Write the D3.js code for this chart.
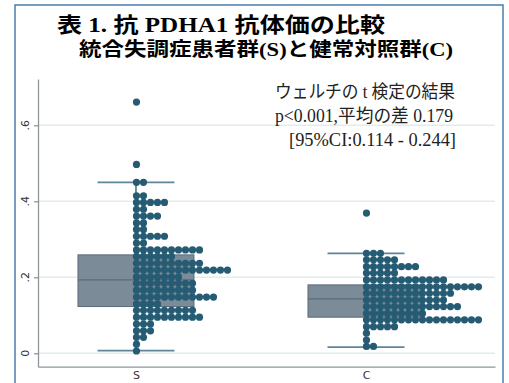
<!DOCTYPE html>
<html><head><meta charset="utf-8">
<script src="https://cdn.jsdelivr.net/npm/d3@7"></script>
<style>body{margin:0;background:#fff;overflow:hidden}</style>
</head><body><svg id="c" width="509" height="383"></svg>
<script>
// ---------- data ----------
const categories = ["S", "C"];
const yTicks = [0, 0.2, 0.4, 0.6];
const yTickLabels = ["0", ".2", ".4", ".6"];

// dot-plot rows (bin value, number of dots in that bin)
const sRowValues = [0.661, 0.497, 0.450, 0.4145, 0.397, 0.379, 0.361, 0.343, 0.326, 0.308, 0.290, 0.272, 0.255, 0.237, 0.219, 0.201, 0.184, 0.166, 0.148, 0.130, 0.113, 0.095, 0.077, 0.059, 0.042, 0.024, 0.006];
const sRowCounts = [1, 1, 2, 2, 5, 2, 4, 2, 2, 5, 2, 10, 6, 10, 14, 7, 9, 9, 12, 4, 9, 10, 3, 3, 2, 1, 1];
const cRowValues = [0.369, 0.263, 0.246, 0.228, 0.211, 0.193, 0.175, 0.158, 0.140, 0.123, 0.105, 0.088, 0.070, 0.053, 0.035, 0.018];
const cRowCounts = [1, 3, 5, 8, 5, 12, 17, 13, 12, 14, 9, 17, 5, 1, 1, 2];

// box plot summary
const boxQ1 = [0.123, 0.095];
const boxMedian = [0.193, 0.143];
const boxQ3 = [0.259, 0.180];
const whiskerLow = [0.007, 0.016];
const whiskerHigh = [0.450, 0.263];

const titleText = "表 1. 抗 PDHA1 抗体価の比較";
const subtitleText = "統合失調症患者群(S)と健常対照群(C)";
const noteLines = ["ウェルチの t 検定の結果", "p<0.001,平均の差 0.179", "[95%CI:0.114 - 0.244]"];

// ---------- drawing ----------
const svg = d3.select("#c");
const x = d3.scaleLinear().domain([0.574, 2.561]).range([38, 495]);
const y = d3.scaleLinear().domain([-0.0353, 0.7218]).range([366.7, 79]);

const dotColor = "#255c74";
const boxFill = "#7b8b97";
const boxStroke = "#5a6c79";
const whiskerColor = "#5f8599";
const dotStep = 7, dotR = 3.6, boxW = 116, capW = 77;

// frame
svg.append("rect").attr("x", 15).attr("y", 5).attr("width", 488).attr("height", 400)
  .attr("fill", "none").attr("stroke", "#4a7dab").attr("stroke-width", 1.5);

// titles
svg.append("text").attr("x", 57).attr("y", 32).text(titleText)
  .attr("font-family", "'Liberation Serif','Noto Sans CJK JP'").attr("font-weight", "bold")
  .attr("font-size", 21).attr("fill", "#000")
  .attr("textLength", 328).attr("lengthAdjust", "spacingAndGlyphs");
svg.append("text").attr("x", 79).attr("y", 56).text(subtitleText)
  .attr("font-family", "'Liberation Serif','Noto Sans CJK JP'").attr("font-weight", "bold")
  .attr("font-size", 19).attr("fill", "#000")
  .attr("textLength", 374).attr("lengthAdjust", "spacingAndGlyphs");

// gridlines
svg.append("g").selectAll("line").data(yTicks).join("line")
  .attr("x1", x.range()[0]).attr("x2", x.range()[1])
  .attr("y1", d => y(d)).attr("y2", d => y(d))
  .attr("stroke", "#e2ebee").attr("stroke-width", 1.5);

// y axis
const yAxis = svg.append("g").attr("transform", `translate(${x.range()[0]},0)`)
  .call(d3.axisLeft(y).tickValues(yTicks).tickFormat("").tickSize(4).tickSizeOuter(0));
yAxis.selectAll("path,line").attr("stroke", "#8f9699").attr("stroke-width", 1.3);
svg.append("g").selectAll("text").data(yTicks).join("text")
  .attr("transform", (d, i) => `translate(25,${y(d)}) rotate(-90)`)
  .attr("text-anchor", "middle").attr("dy", "0.35em")
  .attr("font-family", "'DejaVu Sans'").attr("font-size", 11).attr("fill", "#333")
  .text((d, i) => yTickLabels[i]);

// x axis
const xAxis = svg.append("g").attr("transform", `translate(0,${y.range()[0]})`)
  .call(d3.axisBottom(x).tickValues([1, 2]).tickFormat((d) => categories[d - 1]).tickSize(0).tickSizeOuter(0).tickPadding(5));
xAxis.select("path").attr("stroke", "#8f9699").attr("stroke-width", 1.3);
xAxis.selectAll("text").attr("font-family", "'DejaVu Sans'").attr("font-size", 11).attr("fill", "#333");

// boxes
const gBox = svg.append("g");
categories.forEach((c, i) => {
  const cx = x(i + 1);
  gBox.append("line").attr("x1", cx).attr("x2", cx).attr("y1", y(boxQ3[i])).attr("y2", y(whiskerHigh[i]))
    .attr("stroke", whiskerColor).attr("stroke-width", 1.8);
  gBox.append("line").attr("x1", cx).attr("x2", cx).attr("y1", y(boxQ1[i])).attr("y2", y(whiskerLow[i]))
    .attr("stroke", whiskerColor).attr("stroke-width", 1.8);
  [whiskerHigh[i], whiskerLow[i]].forEach(v => {
    gBox.append("line").attr("x1", cx - capW / 2).attr("x2", cx + capW / 2).attr("y1", y(v)).attr("y2", y(v))
      .attr("stroke", whiskerColor).attr("stroke-width", 1.8);
  });
  gBox.append("rect").attr("x", cx - boxW / 2).attr("width", boxW)
    .attr("y", y(boxQ3[i])).attr("height", y(boxQ1[i]) - y(boxQ3[i]))
    .attr("fill", boxFill).attr("stroke", boxStroke).attr("stroke-width", 1);
  gBox.append("line").attr("x1", cx - boxW / 2).attr("x2", cx + boxW / 2)
    .attr("y1", y(boxMedian[i])).attr("y2", y(boxMedian[i]))
    .attr("stroke", boxStroke).attr("stroke-width", 1.2);
});

// dots
const dots = [];
[[sRowValues, sRowCounts], [cRowValues, cRowCounts]].forEach(([vals, counts], gi) => {
  vals.forEach((v, r) => {
    for (let k = 0; k < counts[r]; k++) dots.push({ g: gi, v, k });
  });
});
svg.append("g").selectAll("circle").data(dots).join("circle")
  .attr("cx", d => x(d.g + 1) + 0.5 + d.k * dotStep)
  .attr("cy", d => y(d.v))
  .attr("r", dotR).attr("fill", dotColor);

// annotation
const notePos = [[275, 98, 180], [275, 122, 178], [289, 146, 167]];
svg.append("g").selectAll("text").data(noteLines).join("text")
  .attr("x", (d, i) => notePos[i][0]).attr("y", (d, i) => notePos[i][1])
  .attr("textLength", (d, i) => notePos[i][2]).attr("lengthAdjust", "spacingAndGlyphs")
  .attr("font-family", "'Liberation Serif','Noto Sans CJK JP'").attr("font-size", 18)
  .attr("fill", "#222").text(d => d);
</script></body></html>
